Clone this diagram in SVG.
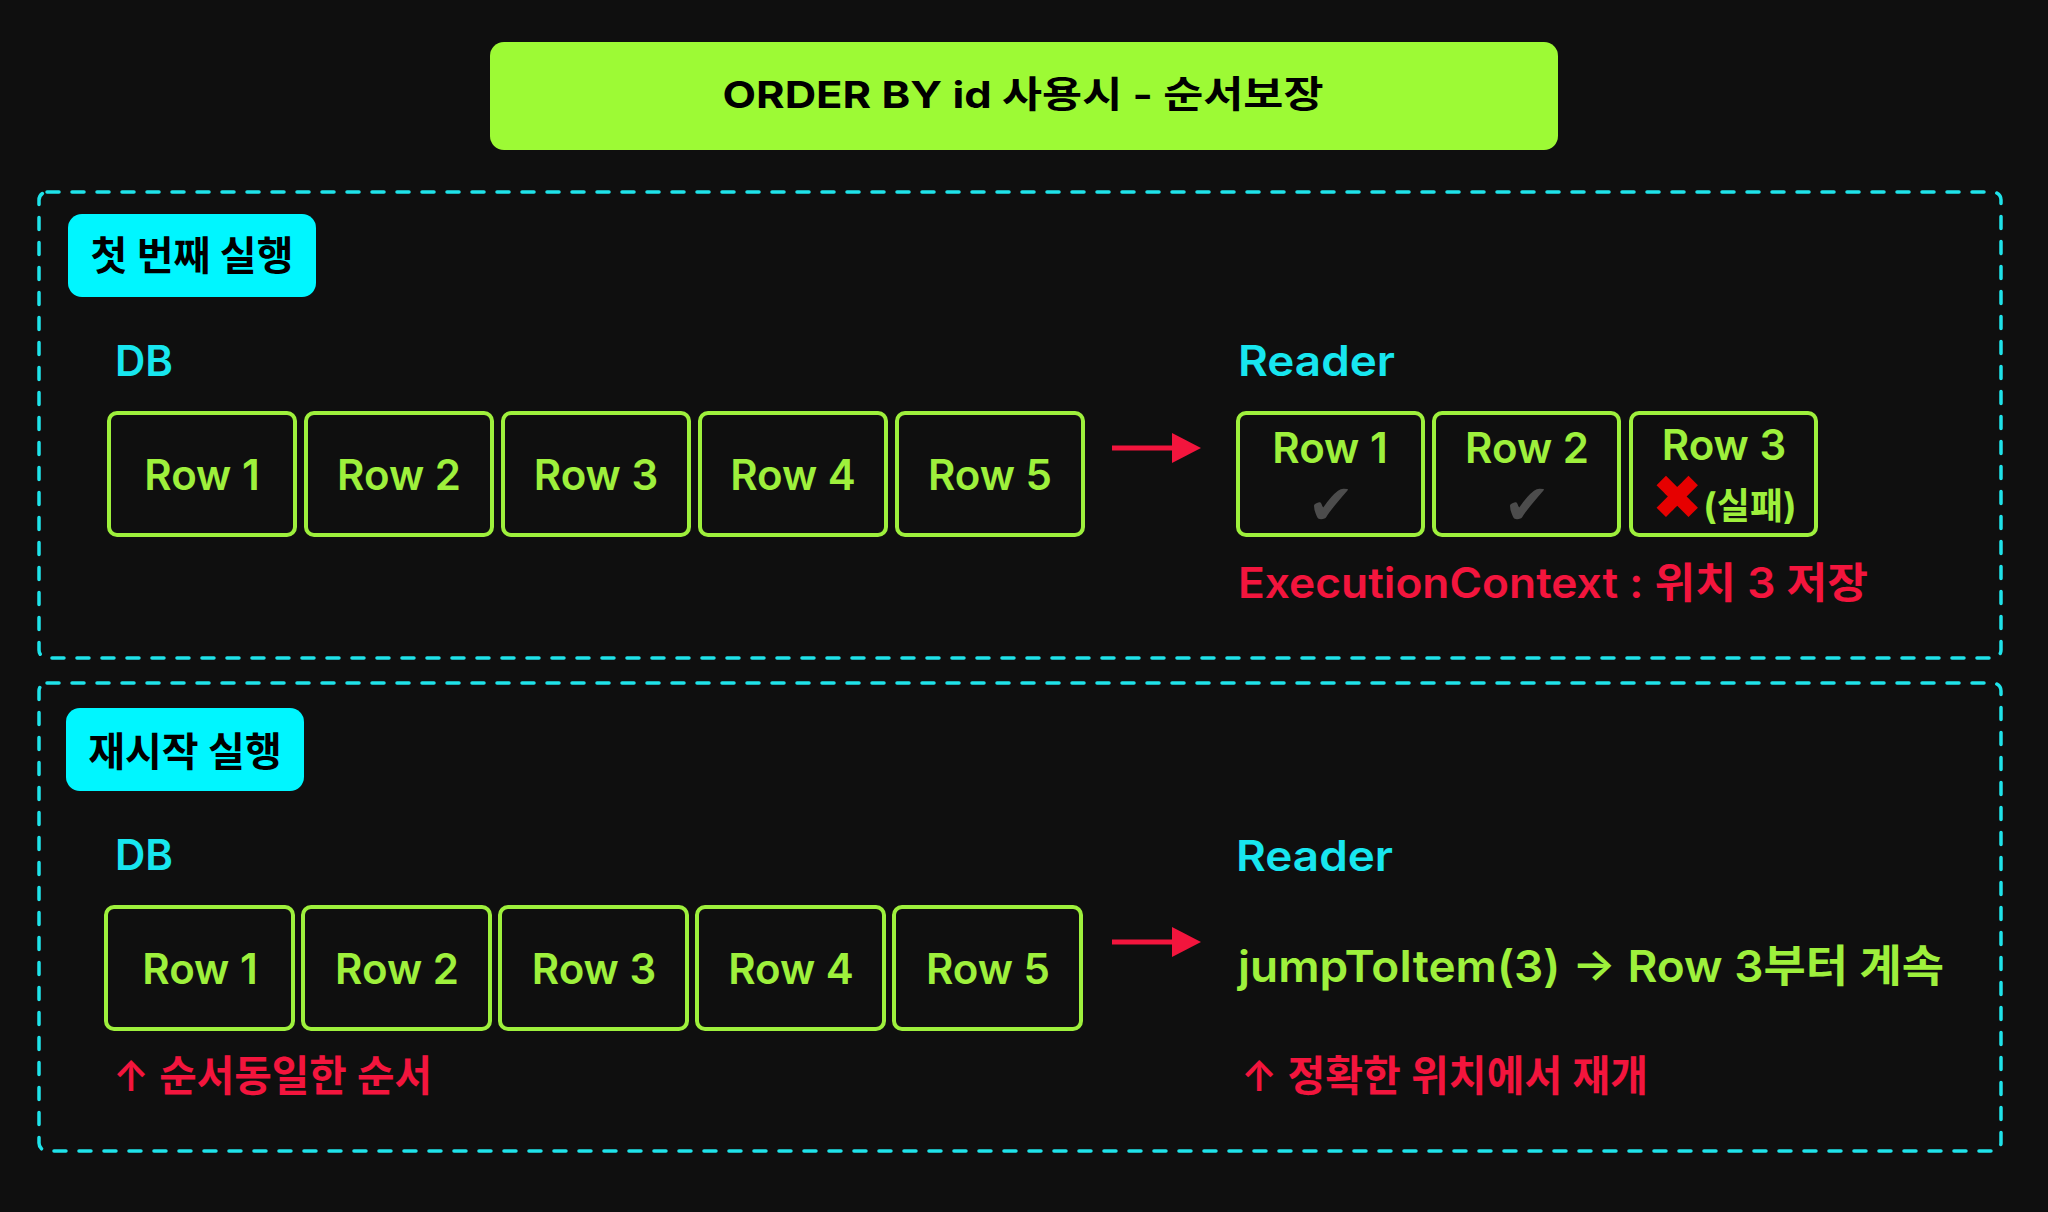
<svg xmlns="http://www.w3.org/2000/svg" width="2048" height="1212" viewBox="0 0 2048 1212">
<defs>
<style>
text{font-family:Inter,"Noto Sans CJK KR","Noto Sans",sans-serif}
.sec{fill:none;stroke:#1fe3ea;stroke-width:3.5;stroke-dasharray:12 13;stroke-linecap:round}
.lbl{fill:#00f6ff}
.lbltx{font-size:40px;font-weight:700;fill:#000;text-anchor:middle}
.hd{font-size:42px;font-weight:600;fill:#17e6ef}
.row{fill:none;stroke:#9ef03c;stroke-width:4}
.rowtx{font-size:42px;font-weight:600;fill:#9ef03c;text-anchor:middle}
.red{font-size:42px;font-weight:600;fill:#f3153d}
.conn{stroke:#f3153d;stroke-width:5}
.head{fill:#f3153d}
.chk{font-family:"DejaVu Sans",sans-serif;font-size:56px;fill:#4c4c4c;text-anchor:middle}
</style>
</defs>
<rect x="0" y="0" width="2048" height="1212" fill="#0f0f0f"/>
<g id="title">
<rect x="490" y="42" width="1068" height="108" rx="14" fill="#9dfa35"/>
<text x="1023" y="108" font-size="37" font-weight="700" fill="#000" text-anchor="middle" textLength="601" lengthAdjust="spacingAndGlyphs">ORDER BY id 사용시 - 순서보장</text>
</g>
<g id="section1">
<rect class="sec" x="39" y="192" width="1962" height="466" rx="8"/>
<rect class="lbl" x="68" y="214" width="248" height="83" rx="14"/>
<text class="lbltx" x="192" y="270">첫 번째 실행</text>
<text class="hd" x="115" y="376">DB</text>
<text class="hd" x="1238" y="376" textLength="157" lengthAdjust="spacingAndGlyphs">Reader</text>
</g>
<g id="s1-db-row1"><rect class="row" x="109" y="413" width="186" height="122" rx="8"/><text class="rowtx" x="202" y="490">Row 1</text></g>
<g id="s1-db-row2"><rect class="row" x="306" y="413" width="186" height="122" rx="8"/><text class="rowtx" x="399" y="490">Row 2</text></g>
<g id="s1-db-row3"><rect class="row" x="503" y="413" width="186" height="122" rx="8"/><text class="rowtx" x="596" y="490">Row 3</text></g>
<g id="s1-db-row4"><rect class="row" x="700" y="413" width="186" height="122" rx="8"/><text class="rowtx" x="793" y="490">Row 4</text></g>
<g id="s1-db-row5"><rect class="row" x="897" y="413" width="186" height="122" rx="8"/><text class="rowtx" x="990" y="490">Row 5</text></g>
<g id="s1-rd-row1"><rect class="row" x="1238" y="413" width="185" height="122" rx="8"/><text class="rowtx" x="1330" y="463">Row 1</text><text class="chk" x="1331" y="524">✔</text></g>
<g id="s1-rd-row2"><rect class="row" x="1434" y="413" width="185" height="122" rx="8"/><text class="rowtx" x="1527" y="463">Row 2</text><text class="chk" x="1527" y="524">✔</text></g>
<g id="s1-rd-row3"><rect class="row" x="1631" y="413" width="185" height="122" rx="8"/><text class="rowtx" x="1724" y="460">Row 3</text><text x="1724" y="519" text-anchor="middle" font-size="36" font-weight="700" fill="#9ef03c"><tspan font-family="DejaVu Sans,sans-serif" font-size="62" fill="#e60000">✖</tspan>(실패)</text></g>
<g id="s1-note"><text class="red" x="1238" y="598" textLength="630" lengthAdjust="spacingAndGlyphs">ExecutionContext : 위치 3 저장</text></g>
<g id="section2">
<rect class="sec" x="39" y="683" width="1962" height="468" rx="8"/>
<rect class="lbl" x="66" y="708" width="238" height="83" rx="14"/>
<text class="lbltx" x="185" y="766">재시작 실행</text>
<text class="hd" x="115" y="870">DB</text>
<text class="hd" x="1236" y="871" textLength="157" lengthAdjust="spacingAndGlyphs">Reader</text>
</g>
<g id="s2-db-row1"><rect class="row" x="106" y="907" width="187" height="122" rx="8"/><text class="rowtx" x="200" y="984">Row 1</text></g>
<g id="s2-db-row2"><rect class="row" x="303" y="907" width="187" height="122" rx="8"/><text class="rowtx" x="397" y="984">Row 2</text></g>
<g id="s2-db-row3"><rect class="row" x="500" y="907" width="187" height="122" rx="8"/><text class="rowtx" x="594" y="984">Row 3</text></g>
<g id="s2-db-row4"><rect class="row" x="697" y="907" width="187" height="122" rx="8"/><text class="rowtx" x="791" y="984">Row 4</text></g>
<g id="s2-db-row5"><rect class="row" x="894" y="907" width="187" height="122" rx="8"/><text class="rowtx" x="988" y="984">Row 5</text></g>
<g id="s2-reader"><text x="1238" y="982" font-size="44" font-weight="600" fill="#9ef03c" textLength="706" lengthAdjust="spacingAndGlyphs">jumpToItem(3) → Row 3부터 계속</text></g>
<g id="s2-note1"><text class="red" x="113" y="1091" font-weight="700" textLength="319" lengthAdjust="spacingAndGlyphs">↑ 순서동일한 순서</text></g>
<g id="s2-note2"><text class="red" x="1241" y="1091" font-weight="700" textLength="407" lengthAdjust="spacingAndGlyphs">↑ 정확한 위치에서 재개</text></g>
<g id="connectors">
<line class="conn" x1="1112" y1="448" x2="1176" y2="448"/>
<polygon class="head" points="1172,433 1201,448 1172,463"/>
<line class="conn" x1="1112" y1="942" x2="1176" y2="942"/>
<polygon class="head" points="1172,927 1201,942 1172,957"/>
</g>
</svg>
